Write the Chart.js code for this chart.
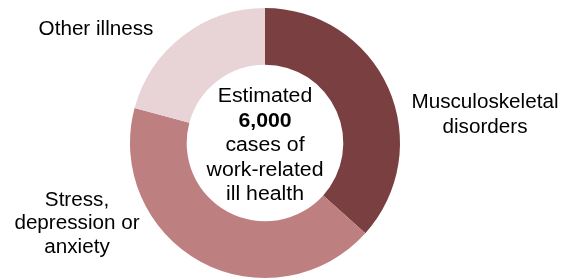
<!DOCTYPE html>
<html>
<head>
<meta charset="utf-8">
<script src="https://cdn.jsdelivr.net/npm/chart.js@4"></script>
<style>
  html, body { margin: 0; padding: 0; background: #fff; }
  #wrap { position: relative; width: 564px; height: 280px; }
</style>
</head>
<body>
<div id="wrap"><canvas id="chart" width="564" height="280"></canvas></div>
<script>
const categories = ['Musculoskeletal disorders', 'Stress, depression or anxiety', 'Other illness'];
const cases = [2200, 2550, 1250];
const colors = ['#7a3f40', '#be7f80', '#e8d4d6'];
const centerLines = ['Estimated', '6,000', 'cases of', 'work-related', 'ill health'];

const FONT = '"Liberation Sans", Arial, sans-serif';

// label text + where it sits relative to the donut centre
const labelDefs = [
  { lines: ['Musculoskeletal', 'disorders'], dx: 220, dy: -28, gap: 25 },
  { lines: ['Stress,', 'depression or', 'anxiety'], dx: -188, dy: 81, gap: 23.5 },
  { lines: ['Other illness'], dx: -169, dy: -113, gap: 24 }
];

// the original text is a little wider than Arial, so stretch it slightly
function drawText(ctx, t, x, y, bold, sx) {
  ctx.save();
  ctx.translate(x, y);
  ctx.scale(sx, 1);
  ctx.font = (bold ? 'bold ' : '') + '19.5px ' + FONT;
  ctx.fillText(t, 0, 0);
  ctx.restore();
}

const textPlugin = {
  id: 'texts',
  afterDraw(chart) {
    const arc = chart.getDatasetMeta(0).data[0];
    const cx = arc.x, cy = arc.y;
    const ctx = chart.ctx;
    ctx.save();
    ctx.fillStyle = '#000';
    ctx.textAlign = 'center';
    ctx.textBaseline = 'middle';
    centerLines.forEach((t, i) => {
      drawText(ctx, t, cx, cy + 3 + (i - 2) * 24.5, i === 1, 1.09);
    });
    labelDefs.forEach(l => {
      const n = l.lines.length;
      l.lines.forEach((t, i) => {
        drawText(ctx, t, cx + l.dx, cy + l.dy + (i - (n - 1) / 2) * l.gap, false, 1.06);
      });
    });
    ctx.restore();
  }
};

new Chart(document.getElementById('chart'), {
  type: 'doughnut',
  data: {
    labels: categories,
    datasets: [{ data: cases, backgroundColor: colors, borderWidth: 0 }]
  },
  options: {
    responsive: false,
    animation: false,
    cutout: '58%',
    layout: { padding: { left: 130, right: 164, top: 8, bottom: 2 } },
    plugins: { legend: { display: false }, tooltip: { enabled: false } }
  },
  plugins: [textPlugin]
});
</script>
</body>
</html>
